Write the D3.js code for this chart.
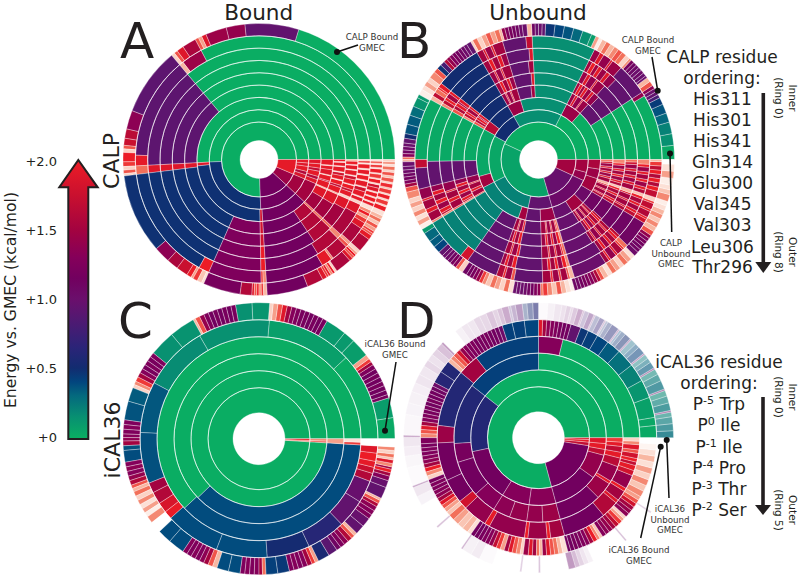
<!DOCTYPE html>
<html><head><meta charset="utf-8">
<script src="https://cdn.jsdelivr.net/npm/d3@7"></script>
<style>html,body{margin:0;background:#fff}svg{display:block;font-family:"DejaVu Sans",sans-serif;fill:#231f20}</style>
</head><body><svg id="c" width="800" height="577"></svg>
<script>
// Each ring: flat list of (slice end angle in degrees ccw from east, energy above GMEC in kcal/mol).
const ringsA = [
[272,0,317,1.15,337,1.45,360,1.95],
[183,0,272,.48,317,1.15,337,1.5,342,1.85,346,1.6,352,1.95,356,1.9,360,1.95],
[183,0,186,1.9,271,.48,273.5,1.8,317,1.15,337,1.5,341,1.9,344,1.6,349,1.95,352,1.7,356,1.95,360,1.9],
[130,0,183,.92,187,1.9,246,.48,271,1.25,273.5,1.8,304,1.15,316,1.6,317.5,2.3,329,1.5,336,1.9,337,2.6,342,1.95,343,1.7,347,1.95,347.6,2.6,352,1.9,355,1.95,355.6,2.6,360,1.95],
[130,0,183,.92,187,1.9,246,.48,271,1.25,273.5,1.8,304,1.15,316,1.6,317.5,2.3,329,1.5,336,1.9,337,2.6,341,1.95,342.5,1.7,345.5,2,346.1,2.8,349,1.95,351,1.8,351.6,2.8,355,1.95,355.6,2.8,358,1.95,358.6,2.8,360,2],
[130,0,183,.92,187,1.9,246,.48,271,1.25,273.5,2,304,1.15,316,1.6,317.5,2.3,330,1.5,336,1.9,337.6,2.8,340.5,1.95,342,1.75,344.5,2,345,2.8,348,1.95,350,1.8,350.6,2.8,353.5,1.95,354,2.8,356.5,1.95,357,2.8,359,2,360,2.6],
[130,0,183,.92,187,1.9,246,.48,271,1.25,273.5,2,302,1.15,315,1.6,317.5,2.4,331,1.55,336,1.9,337.6,2.8,339.5,1.95,340.1,2.8,343,1.95,345,1.8,345.6,2.8,348.5,1.95,349.1,2.8,351.5,2,352.1,2.8,354.5,1.95,355.2,2.8,357.5,2,358.2,2.9,359.3,2.1,360,2.8],
[118,0,128,1.45,130,2.6,178,.92,183,1.95,187,2.3,241,.48,246,2,271,1.25,272,2.1,273.5,2.4,301,1.15,306,1.95,307,2.4,315,1.6,316.5,2.2,318,2.5,326,1.55,329,1.9,331,2.1,332.5,2.5,334,2,335.5,2.4,337.6,2.9,339,1.95,339.6,2.8,341.5,2,342.1,2.8,344,2,344.6,2.8,346.5,1.9,348,1.8,348.7,2.8,350.5,2,351.1,2.8,353,2.1,353.6,2.8,355.5,2,356.2,2.9,357.5,2.1,358.2,2.9,359.2,2.2,360,2.9],
[73,0,96,.95,104,1.4,113,1.45,115,1.9,116.5,2.5,118,2.2,124,1.55,127,1.9,128.5,2.2,130,2.8,159,.92,167,1.35,171,1.65,174,1.75,175.5,2.2,177,2.8,181,2,183,2.1,184.5,2.8,186,2.2,187,2.8,221,.48,228,1.35,233,1.55,238,1.75,240,2,241,2.5,243,2.1,245,2.7,246,2.9,262,1.2,267,1.6,268,1.9,269,2.2,270,2,271,2.4,272,2.1,273.5,2.6,291,1.15,298,1.6,300,1.9,301,2.1,302,1.95,303,2.4,304,2,305,2.8,312,1.55,313.5,1.9,314.5,2.2,315.5,2,316.5,2.5,318,2.8,324,1.6,326,1.95,327,2.2,328,2.1,329.5,2.5,331,2.2,332.5,2.7,334,2.3,335.5,2.6,337.5,2.9,339.5,2,340.2,2.8,342,2.1,342.8,2.8,344.5,2,345.2,2.8,347,2.1,347.8,2.7,349.5,2.05,350.3,2.8,352,2.2,353,2.7,354.5,2.2,355.5,2.8,357,2.3,358,2.9,359,2.4,360,2.8]
];

const midB = [33,0,48,.95,53,1.45,54,1.9,58,1.4,60,1.9,63,1.45,93,.15,96,1.5,107,.95,112,1.5,113,1.95,116,1.45,117,1.9,120,1.45,142,.5,144,1.9,145,1.5,147,1.95,149,1.6,151,2.2,181,.02,194,.95,199,1.4,200,1.95,204,1.5,206,1.95,210,1.5,211,2.2,235,.2,250,.95,253,1.5,254,1.9,257,1.45,258.5,2,272,.95,276,1.5,277,1.95,280,1.45,281,2,284,1.5,285,2,286.5,2.3,303,.98,305,1.5,306,1.95,309,1.4,310,1.95,313,1.5,314,2,316,1.6,329,1.1,331,1.6,332,1.9,335,1.5,336,1.9,339,1.5,340,1.9,342,2.6,345,1.5,346.5,1.9,349,1.45,350.5,1.9,353,1.5,354.5,1.9,357,1.45,358.5,1.8,360,2.3];
const midB2 = [33,0,46,.95,50,1.4,52,1.9,55,1.45,57,1.95,59,1.5,61,2,63,1.5,93,.15,95,1.9,107,.95,110,1.45,112,1.95,115,1.5,117,2,120,1.5,142,.5,143.5,1.95,146,1.5,147.5,2,149.5,1.7,151,2.4,181,.02,194,.95,197,1.4,199,1.95,202,1.5,204,2,207,1.45,209,1.95,210,1.7,211,2.4,235,.2,250,.95,252,1.45,253.5,1.95,256,1.5,258,2,272,.95,275,1.45,276.5,2,279,1.5,280.5,2,283,1.45,285,2,286.5,2.4,304,.98,306,1.5,307.5,2,310,1.45,311.5,1.95,314,1.55,315.5,2,317,1.7,329,1.1,331,1.7,332.5,1.95,335,1.5,336.5,1.95,339,1.55,340.5,2,342,2.7,344,1.6,345.5,1.95,348,1.45,349.5,2,352,1.5,353.5,1.95,356,1.45,357.5,2,360,2.4];
const ringsB = [
[155,0,286,.05,335,.98,360,1.5],
[63,0,120,.15,152,.5,207,.03,258,.2,286,.95,335,1.05,345,1.4,360,1.5],
[48,0,63,1.45,107,.15,120,1.45,142,.5,151,1.65,196,.03,207,1.5,251,.2,258,1.5,272,.95,286,1.45,303,.98,316,1.5,329,1.05,342,1.5,351,1.45,360,1.55],
midB, midB2, midB, midB2,
[31,0,33,1.4,48,.95,53,1.45,54,1.9,58,1.4,60,1.9,63,1.45,93,.15,96,1.7,107,.95,112,1.5,113,1.95,116,1.45,117,1.9,120,1.5,142,.5,144,1.95,145,2.1,147,2.3,149,1.7,151,2.6,180,.02,184,1.7,194,.95,199,1.4,200,1.95,204,1.5,206,1.95,210,1.5,211,2.4,231,.2,235,1.8,250,.95,253,1.6,254,2,257,1.45,258.5,2.2,272,.95,276,1.5,277,2,280,1.45,281,2.1,284,1.5,285,2.2,287,2.6,303,1,305,1.5,306,2,309,1.4,310,1.95,313,1.55,314,2.1,316,2.3,329,1.1,331,1.8,332,2,335,1.6,336,2,339,1.7,340,2.1,342,2.8,345,1.7,347,2,349,1.6,351,2,353,1.6,355,2,357,1.7,359,2.1,360,2.6],
[6,.02,11,.14,16,.2,20,.3,24,.36,27,.44,28.5,.8,30,.95,31.5,1,33,1.35,35,2.2,37,2.6,38,1,39.5,.98,41,1.05,42.5,1,44,1.05,45.5,1.1,47,1.2,48,2.4,50,2.8,52,2.3,54,2.2,56,2.4,58,2.6,60,2.3,62,2.6,63.5,3,65,2.5,67,.08,71,.15,75,.3,79,.36,83,.4,87,.46,88.5,.95,90,1,91.5,.98,93,1.1,95,2.6,97,1,98.5,1.05,100,1.1,101.5,1.15,103,1.2,104.5,1.25,106,1.4,107,2.6,109,2.3,111,2.5,113,2.2,115,2.5,117,2.8,119,2.3,120,2.8,122,.95,123.5,1,125,1.05,126.5,1.1,128,1.15,129.5,1.2,131,1.25,132.5,1.4,134,1.6,136,.8,138,.48,140,2.2,143,2.4,145,2.8,147,2.5,149,2.9,151.5,3,153,.1,157,.12,161,.28,165,.34,169,.36,171,.5,173,.95,174.5,1,176,1.05,177.5,1.1,179,1.3,180,2.3,181,2.6,183,1,184.5,1,186,1.05,187.5,1.1,189,1.15,190.5,1.25,192,1.5,194,2.2,197,2.4,199,2.8,201,2.5,203,2.8,205,2.4,207,2.9,209,2.5,211,3,213,.1,217,.3,220,.34,223,.4,225,.95,226.5,1,228,1.05,229.5,1.1,231,1.2,232.5,1.3,234,2.2,236,2.8,238,1.1,239.5,1.15,241,1.2,242.5,1.3,244,1.45,245.5,2.1,247,2.4,249,2.7,251,2.3,253,2.5,255,2.8,257,2.3,259,2.9,260.5,1,262,1,263.5,1,265,1.05,266.5,1.1,268,1.15,269.5,1.25,271,1.35,272,2.3,274,2.1,276,2.4,278,2.7,280,2.2,282,2.6,284,2.9,285.5,3,287,1.1,288.5,1.1,290,1.15,291.5,1.2,293,1.25,294.5,1.3,296,1.4,297.5,1.6,299,2.2,301,2.6,303,2.9,305,2.3,307,2.5,309,2.8,311,2.3,313,2.5,315,2.9,317,1.05,318.5,1.1,320,1.1,321.5,1.15,323,1.2,324.5,1.25,326,1.4,328,2.2,330,2.6,332,2.4,334,2.7,336,2.4,338,2.6,340,2.9,342,3,345,2.4,347,2.7,349,2.9,352,3,355,2.5,358,2.9,360,3.5]
];

const ringsC = [
[356.5,0,358,2.3,360,2],
[356.5,0,358,2.2,360,2.4],
[224,0,356.5,.38,360,2.5],
[223,0,356.5,.38,358,2.1,360,2.9],
[43,.01,85,.07,120,.14,152,.16,177,.35,202,.37,207,1.5,213,1.6,218,1.85,222,1.98,249,.38,274,.38,295,.52,314,.62,328,.95,339,.98,343,1.6,346,1.75,349,1.95,353,2,356.5,1.9,360,3.5],
[9,.02,17.5,.08,19,1.2,21,1.15,23,1.15,25,1.2,27,1.15,29,1.2,31,1.15,33,1.25,34.5,1.5,36,2.1,38,2.5,46,.08,51,.1,60,.1,62,1.2,64,1.15,66,1.2,68,1.15,70,1.2,72,1.2,74,1.25,76,1.3,78,1.5,80,1.9,82,2.2,84,2.5,85.5,2.8,93,.12,100,.14,102,1.2,104,1.15,106,1.2,108,1.15,110,1.2,112,1.15,114,1.25,116,1.4,118,2.2,119,2.6,130,.13,141,.14,143,1.25,145,1.2,147,1.25,149,1.2,151,1.3,153,1.5,155,2.1,156.5,2.4,158,2.8,164,.34,172,.36,174,1.25,176,1.3,178,1.25,179.5,1.3,181,1.35,183,1.5,185,.37,190,.38,192,1.3,194,1.35,196,1.3,198,1.4,200,1.6,201.5,2.2,203,2.6,205,2.3,207,2.8,209,2.4,211,2.9,213,2.5,215,3,218,2.4,220,3.5,223,3.5,229,.38,236,.38,238,1.3,240,1.25,242,1.3,244,1.25,246,1.35,248,1.5,250,2.2,252,2.6,257,.38,262,.38,264,1.25,266,1.3,268,1.25,270,1.3,271.5,1.5,273,2.3,278,.42,283,.45,285,1.25,287,1.3,289,1.25,291,1.3,293,1.5,294.5,2.1,296,2.5,301,.55,305,.9,307,1.1,309,1.25,311,1.35,313,1.6,314.5,2.2,316,2.6,320,.95,324,.98,326,1.25,328,1.3,330,1.35,331.5,1.6,333,2.2,334,2.6,339,.95,342,.98,344,1.3,345.5,1.5,347,2,348,1.5,349.5,2.4,351,1.9,352,2.7,353.5,2.3,355,2.8,356.5,2.4,360,3.5]
];

const ringsD = [
[285,0,351,1.15,355,1.7,358,1.95,360,1.9],
[142,0,192,.6,238,1.15,262,1.3,285,1.32,324,1.15,345,1.4,350,1.7,355,1.95,360,1.9],
[90,0,142,.42,184,.6,197,1.2,222,1.15,238,1.3,250,1.35,262,1.4,273,1.4,285,1.45,315,1.15,327,1.45,329,1.95,340,1.4,346,1.65,350,1.95,354,1.7,357,1.95,360,2.1],
[76,0,90,1.3,128,.42,140,1.5,173,.6,183,1.45,205,1.15,219,1.15,224,1.8,238,1.4,241,1.95,262,1.4,264,2,275,1.45,277,2,285,1.5,310,1.15,320,1.6,322,1.9,328,1.5,330,2,338,1.4,341,1.8,344,1.95,346,1.7,348,2,351,1.8,353,2.2,356,1.9,358,2.4,360,2.8],
[6,.02,10,.03,20,.06,29,.12,38,.2,47,.27,54,.34,60,.4,65,.43,69,.46,74,.95,76,1.15,78,1.15,80,1.2,82,1.25,84,1.3,86,1.35,88,1.5,90,1.9,97,.4,103,.42,108,.42,110,1.05,112,1.1,114,1.15,116,1.15,118,1.2,120,1.2,122,1.2,124,1.2,126,1.25,128,1.25,130,1.3,132,1.4,134,1.8,136,2.2,138,2.4,140,2.6,146,.6,152,.62,154,1.05,156,1.1,158,1.15,160,1.15,162,1.2,164,1.15,166,1.2,168,1.2,170,1.25,172,1.3,174,1.5,176,1.9,178,2.2,180,2.4,183,1.25,185,1.2,187,1.25,189,1.25,191,1.3,193,1.35,195,1.5,197,2,199,2.4,201,2.8,203,1.2,205,1.25,207,1.25,209,1.3,211,1.35,213,1.5,215,1.9,217,2.2,219,2.5,221,2.7,224,2.3,227,2.5,230,2.7,233,2.6,235,2.9,237,1.15,239,1.15,241,1.2,243,1.25,245,1.3,247,1.4,249,1.7,251,2.1,253,2.5,255,1.5,257,1.9,259,2.2,261,2.4,262.5,2.8,265,1.45,267,1.9,269,1.5,270.5,2.3,272,2.6,274,1.45,276,1.9,278,2.2,280,2.3,282,2.6,284.5,2.9,286,1.15,288,1.15,290,1.2,292,1.2,294,1.25,296,1.3,298,1.5,300,2,301.5,2.4,303,2.7,305,1.3,307,1.35,309,1.4,311,1.5,313,1.7,315,2.1,316.5,2.5,318,2.8,320,1.35,322,1.4,324,1.5,326,1.8,328,2.2,330,2.5,333,2.4,336,2.7,339,2.4,342,2.8,345,2.5,348,2.9,351,2.6,354,2.9,357,3.2,360,3.5],
[]
];
// Outer ring of panel D: end angle, energy, opacity of the very thin, washed out slices.
const ringD5 = [3,.28,.8,6,.26,.72,9,.24,.66,11,.2,.6,11.7,1,.55,15,.25,.72,18,.22,.64,20.5,.18,.58,21.2,1,.55,25,.28,.7,28,.24,.64,30.5,.2,.55,31.2,1,.5,34,.34,.62,36,.3,.52,38,.24,.45,38.7,1,.4,42,.42,.55,44,.38,.45,46.5,.32,.38,47.2,1,.35,50,.5,.5,52,.46,.4,53,.4,.32,53.7,1,.3,57,.6,.48,59,.55,.36,60,.5,.26,60.7,1,.25,63,.7,.42,65,.6,.3,65.7,1,.25,68,.9,.38,70,.8,.26,70.7,1,.25,73,1,.34,75,1,.22,76,1,.15,78,1,.18,80,1,.12,83,1,.1,86,1,.06,90,1,.02,92.5,.6,.6,95,.55,.48,97,.5,.36,100,.9,.42,102,.85,.32,103,.8,.25,106,1,.35,108,1,.25,110,1,.18,113,1,.24,116,1,.16,119,1,.16,122,1,.1,125,1,.1,128,1,.06,135,1,0,136,1,.4,139,1,.26,142,1,.18,145,1,.12,148,1,.16,152,1,.1,156,1,.11,160,1,.07,165,1,.06,170,1,.05,179,1,.03,179.8,1,.4,184,1,.1,188,1,.07,193,1,.04,201,1,.02,201.8,1,.35,206,1,.1,210,1,.05,221,1,0,221.8,1,.25,235,1,0,235.8,1,.3,240,1,.06,244,1,.08,250,1,.02,262,1,0,262.8,1,.2,270,1,0,270.8,1,.25,283,1,0,286,1,.42,288,1,.28,290,1,.18,292,1,.11,294,1,.06,310,1,0,310.8,1,.25,326,1,0,326.8,1,.18,360,1,0];

const energyDomain = [0,.15,.3,.4,.5,.65,.9,1,1.15,1.3,1.5,1.75,2,2.3,2.6,3,3.5];
const energyColors = ["#0aad63","#088f72","#04697e","#02457e","#122c70","#2b2478","#5a1670","#6b0f6c","#72005f","#85005a","#a30340","#c9102f","#ec1c26","#f2705a","#f8b7a2","#fdeee8","#ffffff"];

const panels = [
  {rings:ringsA, cx:259, cy:159.5, hole:19, first:37.5, R:136},
  {rings:ringsB, cx:538.5, cy:159.5, hole:19, first:37.5, R:136},
  {rings:ringsC, cx:259, cy:438.7, hole:26, first:51, R:136},
  {rings:ringsD, cx:538.5, cy:437.7, hole:26, first:51, R:135}
];
const panelLetters = ["A","B","C","D"];
const letterX = [120,397,118,397], letterY = [58,58,338,338];
const titles = ["Bound","Unbound"], titleX=[258.7,538];
const colorTicks = [0,.5,1,1.5,2];
const calpOrder = ["His311","His301","His341","Gln314","Glu300","Val345","Val303","Leu306","Thr296"];
const calpRowY = [99,120,141,162,183,204,225,247,267];
const ical = [["-5"," Trp"],["0"," Ile"],["-1"," Ile"],["-4"," Pro"],["-3"," Thr"],["-2"," Ser"]];
const icalRowY = [404,425,447,468,489,510];

const svg = d3.select("#c");
const color = d3.scaleLinear().domain(energyDomain).range(energyColors).clamp(true);
const deg = d3.scaleLinear().domain([0,360]).range([Math.PI/2, Math.PI/2 - 2*Math.PI]);
const arc = d3.arc();

panels.forEach(p=>{
  const n = p.rings.length;
  const rad = d3.scaleLinear().domain([0,1,n]).range([p.hole,p.first,p.R]);
  const g = svg.append("g").attr("transform",`translate(${p.cx},${p.cy})`);
  p.rings.forEach((flat,i)=>{
    const stride = flat.length ? 2 : 3;
    const src = flat.length ? flat : ringD5;
    const slices = [];
    let start = 0;
    for(let k=0;k<src.length;k+=stride){
      slices.push({a0:start,a1:src[k],e:src[k+1],o:stride===3?src[k+2]:1});
      start = src[k];
    }
    g.append("g").selectAll("path").data(slices.filter(d=>d.o>0)).join("path")
      .attr("d",d=>arc({innerRadius:rad(i),outerRadius:rad(i+1),startAngle:deg(d.a0),endAngle:deg(d.a1)}))
      .attr("fill",d=>color(d.e)).attr("fill-opacity",d=>d.o)
      .attr("stroke","#fff").attr("stroke-opacity",.8).attr("stroke-width",.4);
  });
  g.append("g").selectAll("circle").data(d3.range(1,n)).join("circle")
    .attr("r",d=>rad(d)).attr("fill","none").attr("stroke","#fff").attr("stroke-opacity",.75).attr("stroke-width",.8);
});

// colour arrow
const ey = d3.scaleLinear().domain([0,2]).range([437,161]);
const defs = svg.append("defs");
const grad = defs.append("linearGradient").attr("id","eg").attr("gradientUnits","userSpaceOnUse")
  .attr("x1",0).attr("x2",0).attr("y1",ey(0)).attr("y2",ey(2));
energyDomain.filter(d=>d<=2).forEach(d=>grad.append("stop").attr("offset",d/2).attr("stop-color",color(d)));
svg.append("path").attr("d","M68.3,439V187.3H59.3L78.3,160L97.7,187.3H88.3V439Z")
  .attr("fill","url(#eg)").attr("stroke","#231f20").attr("stroke-width",2);
const ax = svg.append("g").attr("transform","translate(57,0)")
  .call(d3.axisLeft(ey).tickValues(colorTicks).tickSize(0).tickPadding(0).tickFormat(d=>"+"+(d===0?"0":d.toFixed(1))));
ax.select(".domain").remove();
ax.selectAll("text").attr("font-size",13).attr("font-family","DejaVu Sans").attr("fill","#231f20");
svg.append("text").attr("transform","translate(16,300) rotate(-90)").attr("text-anchor","middle").attr("font-size",15.6).text("Energy vs. GMEC (kcal/mol)");

const txt=(x,y,s,fs,anchor="middle")=>svg.append("text").attr("x",x).attr("y",y).attr("font-size",fs).attr("text-anchor",anchor).text(s);
panelLetters.forEach((s,i)=>txt(letterX[i],letterY[i],s,50,"start"));
titles.forEach((s,i)=>txt(titleX[i],20.2,s,21.6));
svg.append("text").attr("transform","translate(119,161) rotate(-90)").attr("text-anchor","middle").attr("font-size",22).text("CALP");
svg.append("text").attr("transform","translate(120,440) rotate(-90)").attr("text-anchor","middle").attr("font-size",22).text("iCAL36");

txt(722,63,"CALP residue",17); txt(722,84,"ordering:",17);
calpOrder.forEach((s,i)=>txt(722.5,calpRowY[i]+6,s,17));
txt(719,368,"iCAL36 residue",17); txt(719,389,"ordering:",17);
ical.forEach((d,i)=>{
  const t=svg.append("text").attr("x",719).attr("y",icalRowY[i]+6).attr("font-size",17).attr("text-anchor","middle");
  t.append("tspan").text("P");
  t.append("tspan").attr("dy",-6).attr("font-size",11).text(d[0]);
  t.append("tspan").attr("dy",6).text(d[1]);
});
const vArrow=(x,y0,y1,yh)=>{
  svg.append("line").attr("x1",x).attr("x2",x).attr("y1",y0).attr("y2",yh+2).attr("stroke","#231f20").attr("stroke-width",3.6);
  svg.append("path").attr("d",`M${x-8},${yh}H${x+8}L${x},${y1}Z`);
};
vArrow(763.3,93,273,262); vArrow(763,397,515,505);
const rot=(x,y,s)=>svg.append("text").attr("transform",`translate(${x},${y}) rotate(90)`).attr("text-anchor","middle").attr("font-size",10.5).text(s);
rot(789,98,"Inner"); rot(775,98,"(Ring 0)"); rot(789,252,"Outer"); rot(775,252,"(Ring 8)");
rot(789,397,"Inner"); rot(775,397,"(Ring 0)"); rot(789,510,"Outer"); rot(775,510,"(Ring 5)");

// annotations
const note=(lines,x,ys)=>lines.forEach((s,i)=>txt(x,ys[i],s,8.7).attr("fill","#333"));
const lead=(x0,y0,x1,y1)=>{
  svg.append("line").attr("x1",x0).attr("y1",y0).attr("x2",x1).attr("y2",y1).attr("stroke","#111").attr("stroke-width",1.5);
  svg.append("circle").attr("cx",x0).attr("cy",y0).attr("r",3).attr("fill","#111");
};
note(["CALP Bound","GMEC"],372,[40,51]); lead(337,52,358,45);
note(["CALP Bound","GMEC"],648,[43,54]); lead(657.7,90.7,652,57);
note(["CALP","Unbound","GMEC"],671,[246,257,267]); lead(670,153.5,671.7,232);
note(["iCAL36 Bound","GMEC"],395,[347,358]); lead(385,430.7,396,362);
note(["iCAL36","Unbound","GMEC"],670,[512,523,533]); lead(666.7,440,669,498);
note(["iCAL36 Bound","GMEC"],639,[553,564]); lead(660.7,446.7,640.7,538);
</script></body></html>
